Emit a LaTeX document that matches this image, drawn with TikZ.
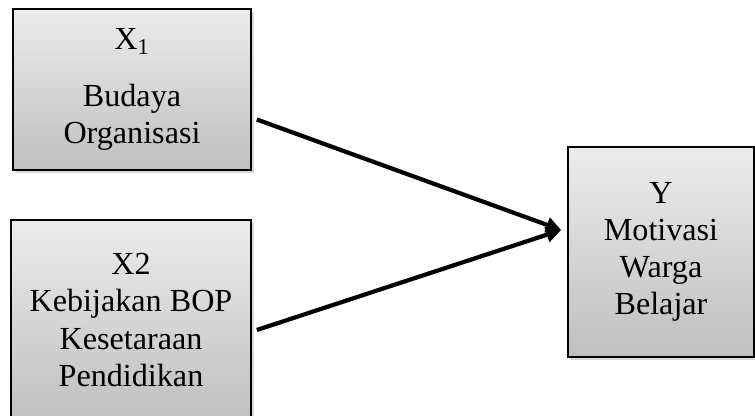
\documentclass[tikz,border=0pt]{standalone}
\usepackage{fontspec}
\setmainfont{Liberation Serif}
\usepackage{tikz}
\usetikzlibrary{arrows.meta}
\usetikzlibrary{positioning}
\usetikzlibrary{shadows}
\usetikzlibrary{calc}
\tikzset{
  var_box/.style = {rectangle, draw=black, line width=1pt, align=center,
    top color=gray!15, bottom color=gray!50,
    drop shadow={shadow xshift=0.06cm, shadow yshift=-0.06cm, opacity=0.3},
    font=\fontsize{18.3}{21.2}\selectfont, inner sep=0pt},% kotak variabel
  var_arr/.style = {line width=2.4pt, -{Triangle[length=0.3cm, width=0.3cm]}}% panah pengaruh
}

\begin{document}
\begin{tikzpicture}[x=0.02cm, y=-0.02cm]
\useasboundingbox (0,0) rectangle (755,416);
\clip (0,0) rectangle (755,416);
\node [var_box, minimum width=4.76cm, minimum height=3.22cm] (x1) at (132,89.5)
  {X\textsubscript{1}\\[0.6em]Budaya\\Organisasi};
\node [var_box, minimum width=4.8cm, minimum height=4cm] (x2) at (131,320)
  {X2\\Kebijakan BOP\\Kesetaraan\\Pendidikan};
\node [var_box, minimum width=3.72cm, minimum height=4.2cm] (y) at (661,252)
  {Y\\Motivasi\\Warga\\Belajar};

\coordinate (tip) at ([shift={(-0.12cm,0.44cm)}]y.west);
\draw [var_arr] ([shift={(0.1cm,-0.6cm)}]x1.east) -- (tip);
\draw [var_arr] ([shift={(0.1cm,-0.2cm)}]x2.east) -- (tip);
\end{tikzpicture}
\end{document}
